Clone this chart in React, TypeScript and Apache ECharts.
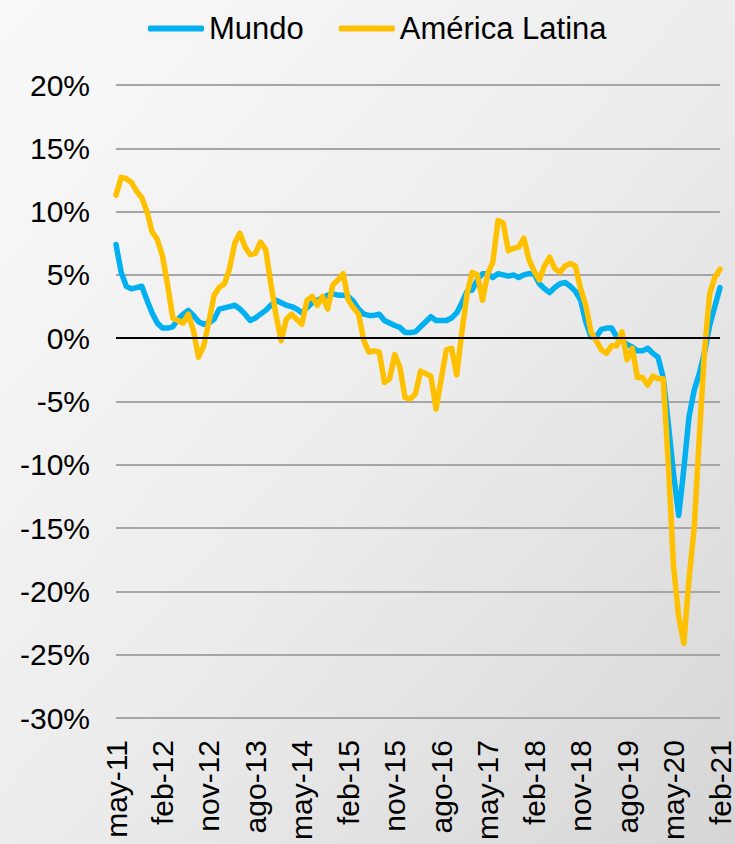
import React, { useEffect, useRef } from "react";
import * as echarts from "echarts";

const monthNames = ["ene", "feb", "mar", "abr", "may", "jun", "jul", "ago", "sep", "oct", "nov", "dic"];

const mundo = [
  7.4, 5.2, 4.1, 3.9, 4.0, 4.1, 3.0, 2.0, 1.2, 0.8,
  0.8, 0.9, 1.5, 1.9, 2.2, 1.8, 1.3, 1.1, 1.2, 1.5,
  2.3, 2.4, 2.5, 2.6, 2.3, 1.9, 1.4, 1.6, 1.9, 2.2,
  2.6, 3.0, 2.8, 2.6, 2.5, 2.3, 2.0, 2.4, 2.8, 3.0,
  3.2, 3.4, 3.5, 3.4, 3.4, 3.3, 2.9, 2.3, 1.9, 1.8,
  1.8, 1.9, 1.4, 1.2, 1.0, 0.85, 0.45, 0.45, 0.5, 0.9,
  1.3, 1.7, 1.4, 1.4, 1.4, 1.6, 2.0, 2.8, 3.7, 3.8,
  4.6, 5.1, 5.1, 4.8, 5.1, 5.0, 4.9, 5.0, 4.8, 5.0,
  5.1, 5.1, 4.3, 3.9, 3.6, 4.0, 4.3, 4.4, 4.1, 3.7,
  3.0, 1.3, 0.1, 0.1, 0.7, 0.8, 0.8, 0.1, -0.2, -0.5,
  -0.7, -1.0, -1.0, -0.8, -1.2, -1.5, -3.1, -6.8, -10.7, -14.0,
  -10.3, -6.2, -4.1, -2.8, -1.1, 1.0, 2.5, 4.0,
];

const americaLatina = [
  11.3, 12.7, 12.6, 12.3, 11.6, 11.1, 10.0, 8.4, 7.8, 6.5,
  4.2, 1.6, 1.4, 1.2, 1.9, 0.6, -1.5, -0.6, 1.3, 3.4,
  4.0, 4.3, 5.5, 7.5, 8.3, 7.2, 6.6, 6.7, 7.6, 7.0,
  4.3, 1.8, -0.2, 1.5, 1.9, 1.5, 1.1, 3.0, 3.3, 2.6,
  3.3, 2.3, 4.2, 4.6, 5.1, 3.0, 2.4, 1.9, -0.2, -1.1,
  -1.0, -1.1, -3.5, -3.2, -1.3, -2.3, -4.7, -4.8, -4.4, -2.6,
  -2.8, -3.0, -5.6, -3.2, -0.9, -0.8, -2.9, 0.5, 3.5, 5.2,
  5.0, 3.0, 5.1, 6.0, 9.3, 9.1, 6.9, 7.1, 7.2, 7.9,
  6.2, 5.3, 4.6, 5.7, 6.4, 5.5, 5.2, 5.7, 5.9, 5.7,
  3.9, 2.6, 0.5, -0.2, -0.9, -1.2, -0.6, -0.6, 0.5, -1.7,
  -0.8, -3.1, -3.1, -3.7, -3.0, -3.2, -3.2, -10.0, -18.0, -22.0,
  -24.1, -19.0, -15.0, -7.8, -1.0, 3.5, 4.8, 5.45,
];

// categories: monthly from may-11
const categories: string[] = [];
for (let k = 0; k < mundo.length; k++) {
  const idx = 4 + k;
  const yy = 11 + Math.floor(idx / 12);
  categories.push(`${monthNames[idx % 12]}-${yy}`);
}

const seriesNames = ["Mundo", "América Latina"];
const colors = ["#00b0f0", "#ffc000"];

const FONT = '"Liberation Sans", Arial, sans-serif';

export default function App() {
  const ref = useRef<HTMLDivElement>(null);
  useEffect(() => {
    document.body.style.margin = "0";
    const chart = echarts.init(ref.current!, undefined, { renderer: "svg" });
    chart.setOption({
      animation: false,
      backgroundColor: {
        type: "linear",
        x: 0,
        y: 0,
        x2: 1,
        y2: 1,
        colorStops: [
          { offset: 0, color: "#f9f9f9" },
          { offset: 0.5, color: "#ededed" },
          { offset: 1, color: "#d6d6d6" },
        ],
      },
      legend: {
        data: seriesNames,
        left: 143,
        top: 8,
        icon: "roundRect",
        itemWidth: 56,
        itemHeight: 6,
        itemGap: 35,
        textStyle: { fontSize: 31, color: "#000", fontFamily: FONT },
      },
      grid: { left: 116, right: 13, top: 85, bottom: 126, containLabel: false },
      xAxis: {
        type: "category",
        data: categories,
        boundaryGap: false,
        axisLine: { show: false },
        axisTick: { show: false },
        splitLine: { show: false },
        axisLabel: {
          interval: 8,
          rotate: 90,
          margin: 22,
          fontSize: 30,
          color: "#000",
          fontFamily: FONT,
        },
      },
      yAxis: {
        type: "value",
        min: -30,
        max: 20,
        interval: 5,
        axisLine: { show: false },
        axisTick: { show: false },
        axisLabel: {
          formatter: (v: number) => `${v}%`,
          fontSize: 30,
          color: "#000",
          margin: 26,
          fontFamily: FONT,
        },
        splitLine: { lineStyle: { color: "#a6a6a6", width: 2 } },
      },
      series: [
        {
          name: "__zero",
          type: "line",
          data: [],
          z: 1,
          silent: true,
          markLine: {
            silent: true,
            symbol: "none",
            label: { show: false },
            lineStyle: { color: "#000", width: 2, type: "solid" },
            data: [{ yAxis: 0 }],
          },
        },
        {
          name: seriesNames[0],
          type: "line",
          data: mundo,
          symbol: "none",
          z: 2,
          itemStyle: { color: colors[0] },
          lineStyle: { color: colors[0], width: 5.5, join: "round", cap: "round" },
        },
        {
          name: seriesNames[1],
          type: "line",
          data: americaLatina,
          symbol: "none",
          z: 3,
          itemStyle: { color: colors[1] },
          lineStyle: { color: colors[1], width: 5.5, join: "round", cap: "round" },
        },
      ],
    });
    return () => chart.dispose();
  }, []);
  return <div ref={ref} style={{ width: 735, height: 844 }} />;
}
